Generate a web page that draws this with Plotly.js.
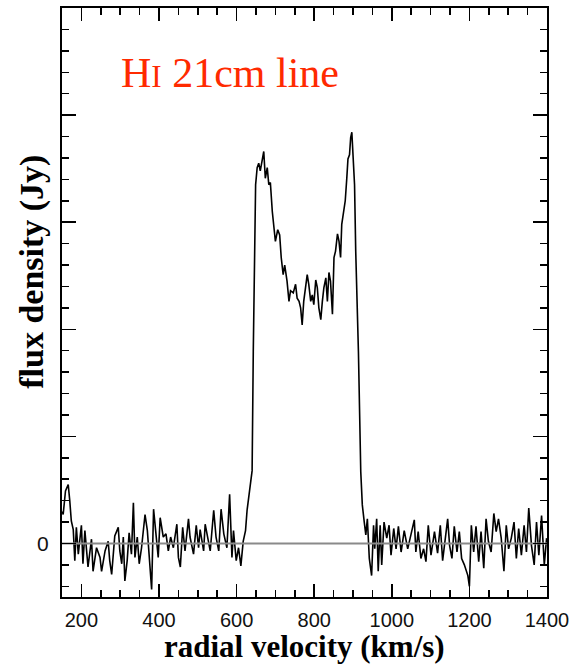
<!DOCTYPE html>
<html>
<head>
<meta charset="utf-8">
<script src="https://cdn.plot.ly/plotly-3.0.1.min.js"></script>
<style>html,body{margin:0;padding:0;background:#fff;}#chart{width:580px;height:666px;}</style>
</head>
<body>
<div id="chart"></div>
<script>
// radial velocity (km/s)
const velocity = [
 151,153,159,166,170,174,179,183,187,192,200,204,209,217,226,230,239,248,252,261,269,273,278,286,295,299,304,308,312,318,323,329,334,338,344,349,355,364,370,375,381,386,392,398,403,411,418,424,430,437,446,450,455,461,467,476,480,489,496,502,506,515,519,525,532,541,547,554,560,567,575,582,588,592,599,605,611,617,623,627,634,640,
 643,646,649,653,657,661,666,670,674,679,683,687,692,696,700,706,711,715,720,724,730,735,739,746,752,756,761,765,769,773,778,782,786,791,795,799,804,808,812,817,821,825,830,834,838,842,847,851,855,860,864,868,871,875,880,884,887,891,894,897,900,904,907,911,914,
 920,924,929,933,937,942,948,953,956,961,965,970,974,980,987,993,998,1005,1011,1017,1024,1032,1041,1049,1058,1062,1068,1075,1082,1088,1094,1101,1110,1118,1125,1131,1137,1144,1149,1155,1161,1168,1174,1180,1187,1196,1200,1205,1211,1217,1224,1230,1237,1243,1249,1256,1263,1269,1275,1282,1289,1295,1301,1308,1315,1321,1327,1334,1341,1347,1353,1360,1367,1373,1379,1386,1393,1399
];
// flux density (arbitrary units; one major tick = 1)
const flux = [
 0.30,0.27,0.49,0.55,0.40,0.21,0.13,-0.16,0.15,-0.10,0.17,-0.19,0.12,-0.22,0.04,-0.26,-0.04,-0.13,-0.26,-0.07,0.02,-0.16,-0.29,0.07,0.15,-0.07,-0.19,0.06,-0.35,-0.16,0.10,-0.10,0.38,-0.13,0.06,-0.19,-0.04,0.27,0.12,-0.10,-0.43,0.32,0.06,-0.13,0.24,0.06,0.09,-0.07,0.06,-0.04,0.18,-0.13,-0.22,0.15,-0.07,0.23,0.06,-0.10,0.17,-0.04,0.13,-0.07,0.18,0.06,-0.07,0.31,0.06,-0.07,0.32,0.09,-0.04,0.46,-0.13,0.12,-0.16,-0.04,-0.21,0.02,0.12,0.31,0.49,0.68,
 1.79,2.57,3.35,3.51,3.55,3.48,3.59,3.66,3.41,3.51,3.35,3.37,3.10,2.92,2.82,2.93,2.88,2.67,2.51,2.60,2.45,2.26,2.36,2.34,2.42,2.29,2.26,2.20,2.04,2.26,2.39,2.51,2.42,2.26,2.32,2.23,2.46,2.39,2.20,2.09,2.26,2.39,2.48,2.26,2.53,2.45,2.14,2.67,2.73,2.89,2.82,2.67,2.98,3.10,3.20,3.41,3.59,3.63,3.79,3.84,3.66,3.35,2.73,2.20,1.79,
 0.67,0.36,0.20,0.08,0.23,-0.14,-0.30,0.17,-0.05,0.23,-0.26,0.17,-0.20,0.20,0.05,0.17,-0.11,0.14,-0.05,0.16,-0.08,0.12,-0.05,0.09,0.22,-0.08,0.11,-0.14,-0.05,-0.17,0.17,-0.11,0.11,-0.09,0.17,-0.16,0.05,0.23,-0.02,-0.14,0.16,-0.08,0.11,-0.14,-0.20,-0.30,-0.40,0.17,-0.08,0.16,-0.17,0.11,-0.23,0.23,0.02,-0.08,0.28,0.11,0.23,0.05,-0.26,0.17,-0.05,0.05,0.20,-0.14,0.14,-0.11,0.17,-0.08,0.33,-0.02,-0.20,0.20,-0.11,0.26,-0.20,0.05
];
// zero reference line
const baselineX = [150, 1400];
const baselineY = [0, 0];
const xTickVals = [200,400,600,800,1000,1200,1400];
const xTickText = ['200','400','600','800','1000','1200','1400'];
const yTickVals = [0,1,2,3,4,5];
const yTickText = ['0','','','','',''];
const xTitle = 'radial velocity (km/s)';
const yTitle = 'flux density (Jy)';
const labelText = 'H<span style="font-size:31px">I</span> 21cm line';

const serif = 'Liberation Serif, Times New Roman, serif';
const sans = 'Liberation Sans, Arial, Helvetica, sans-serif';

const traces = [
  {x: velocity, y: flux, type: 'scatter', mode: 'lines',
   line: {color: '#000', width: 1.6}, hoverinfo: 'skip'},
  {x: baselineX, y: baselineY, type: 'scatter', mode: 'lines',
   line: {color: '#8a8a8a', width: 2}, hoverinfo: 'skip'}
];

const layout = {
  width: 580, height: 666,
  margin: {l: 62, r: 33, t: 8, b: 69},
  paper_bgcolor: '#fff', plot_bgcolor: '#fff',
  showlegend: false,
  xaxis: {
    range: [150, 1400], tickvals: xTickVals, ticktext: xTickText,
    ticks: 'inside', ticklen: 13, tickwidth: 1.5, tickcolor: '#000',
    minor: {dtick: 50, tick0: 0, ticks: 'inside', ticklen: 7, tickwidth: 1.5, tickcolor: '#000', showgrid: false},
    showline: true, linecolor: '#000', linewidth: 2, mirror: 'ticks',
    showgrid: false, zeroline: false,
    tickfont: {family: sans, size: 20, color: '#111'},
    ticklabelstandoff: 4
  },
  yaxis: {
    range: [-0.5, 5], tickvals: yTickVals, ticktext: yTickText,
    ticks: 'inside', ticklen: 14, tickwidth: 1.5, tickcolor: '#000',
    minor: {dtick: 0.2, tick0: 0, ticks: 'inside', ticklen: 7, tickwidth: 1.5, tickcolor: '#000', showgrid: false},
    showline: true, linecolor: '#000', linewidth: 2, mirror: 'ticks',
    showgrid: false, zeroline: false,
    tickfont: {family: sans, size: 21, color: '#111'},
    ticklabelstandoff: 7
  },
  annotations: [
    {text: labelText, xref: 'paper', yref: 'paper', x: 0.117, y: 0.89,
     xanchor: 'left', yanchor: 'middle', showarrow: false,
     font: {family: serif, size: 42, color: '#ff2a00'}},
    {text: '<b>' + xTitle + '</b>', xref: 'paper', yref: 'paper', x: 0.501, y: -0.0835,
     xanchor: 'center', yanchor: 'middle', showarrow: false, borderpad: 0,
     font: {family: serif, size: 31, color: '#000'}},
    {text: '<b>' + yTitle + '</b>', xref: 'paper', yref: 'paper', x: -0.062, y: 0.552,
     xanchor: 'center', yanchor: 'middle', showarrow: false, textangle: -90,
     font: {family: serif, size: 34, color: '#000'}}
  ]
};

Plotly.newPlot('chart', traces, layout, {staticPlot: true, displayModeBar: false});
</script>
</body>
</html>
